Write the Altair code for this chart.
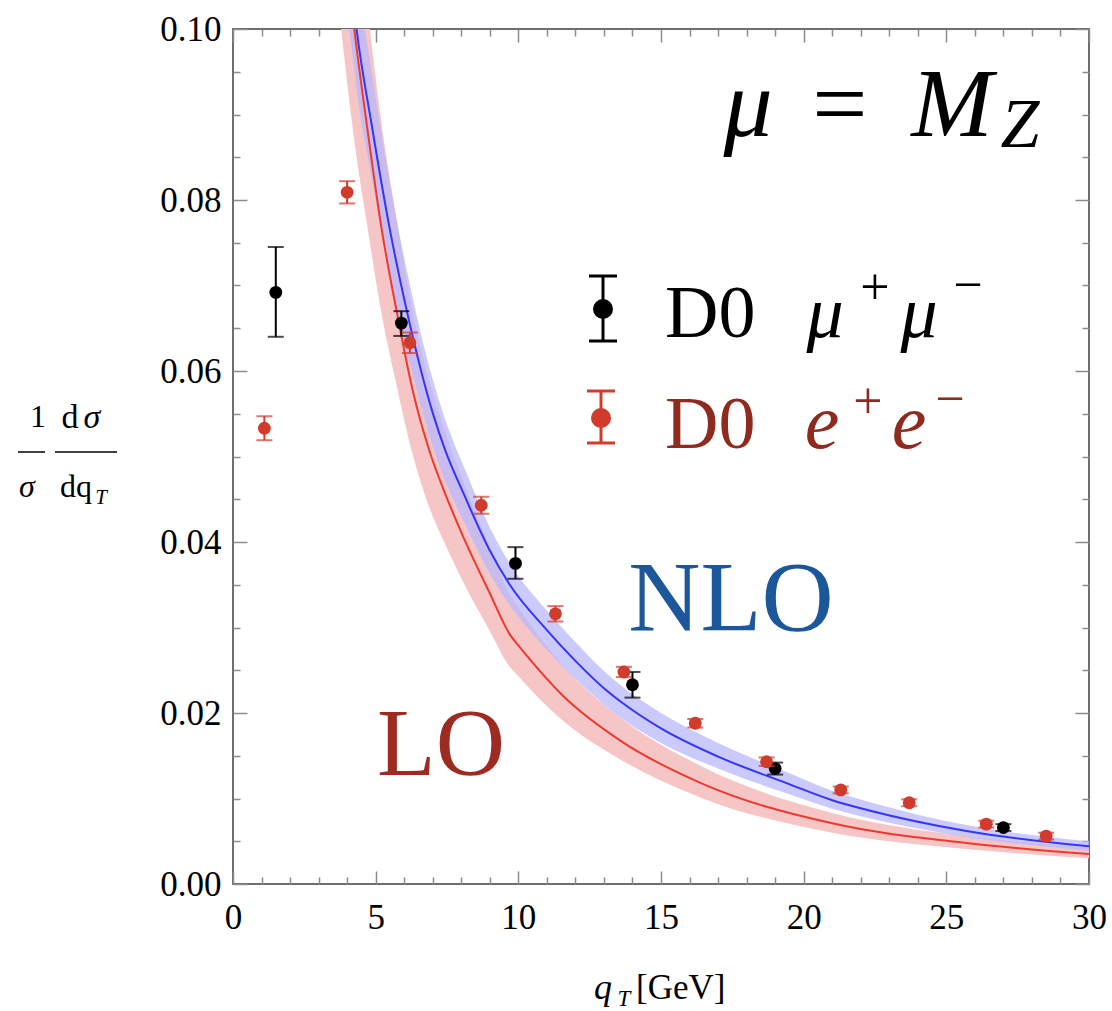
import altair as alt
import pandas as pd

# ---------------- data ----------------
# NLO curve (blue) with its band
nlo_x  = [3.9, 4.33, 4.86, 5.5, 6.1, 7.0, 7.43, 8.13, 9.0, 9.7, 11.0, 12.0, 13.0, 13.56, 15.0, 17.0, 19.4, 21.0, 22.3, 25.7, 30.0]
nlo_y  = [0.114, 0.1000, 0.0888, 0.0765, 0.0669, 0.0551, 0.0508, 0.0453, 0.0390, 0.0350, 0.0297, 0.0261, 0.0229, 0.0214, 0.0182, 0.0149, 0.0118, 0.0098, 0.0086, 0.0062, 0.0044]
nlo_lo = [0.106, 0.0930, 0.0826, 0.0711, 0.0622, 0.0512, 0.0472, 0.0421, 0.0363, 0.0326, 0.0274, 0.0240, 0.0210, 0.0195, 0.0165, 0.0135, 0.0106, 0.0088, 0.0077, 0.0055, 0.0039]
nlo_hi = [0.122, 0.1070, 0.0950, 0.0819, 0.0716, 0.0590, 0.0544, 0.0485, 0.0417, 0.0375, 0.0320, 0.0283, 0.0249, 0.0233, 0.0200, 0.0165, 0.0131, 0.0109, 0.0096, 0.0069, 0.0050]

# LO curve (red) with its band
lo_x  = [3.7, 4.25, 4.69, 5.2, 5.74, 6.3, 6.9, 7.43, 8.07, 9.0, 9.7, 10.0, 10.5, 11.6, 13.56, 16.4, 21.0, 25.7, 30.0]
lo_y  = [0.118, 0.1000, 0.0888, 0.0768, 0.0669, 0.0577, 0.0505, 0.0457, 0.0406, 0.0340, 0.0292, 0.0279, 0.0259, 0.0219, 0.0168, 0.0118, 0.0071, 0.0048, 0.0035]
lo_lo = [0.1027, 0.0870, 0.0773, 0.0668, 0.0582, 0.0502, 0.0439, 0.0398, 0.0353, 0.0296, 0.0254, 0.0243, 0.0225, 0.0190, 0.0146, 0.0101, 0.0060, 0.0041, 0.0030]
lo_hi = [0.137, 0.1160, 0.1030, 0.0891, 0.0776, 0.0669, 0.0586, 0.0530, 0.0471, 0.0394, 0.0339, 0.0324, 0.0300, 0.0254, 0.0195, 0.0138, 0.0083, 0.0056, 0.0043]

# D0 mu+ mu- data (black)
mu_x  = [1.5, 5.9, 9.9, 14.0, 19.0, 27.0]
mu_y  = [0.0692, 0.0656, 0.0375, 0.0233, 0.0135, 0.0066]
mu_lo = [0.0640, 0.0641, 0.0357, 0.0218, 0.0128, 0.0062]
mu_hi = [0.0745, 0.0670, 0.0394, 0.0248, 0.0142, 0.0070]

# D0 e+ e- data (red)
ee_x   = [1.1, 4.0, 6.2, 8.7, 11.3, 13.7, 16.2, 18.7, 21.3, 23.7, 26.4, 28.5]
ee_y   = [0.0533, 0.0809, 0.0633, 0.0443, 0.0316, 0.0248, 0.0188, 0.0143, 0.0110, 0.0095, 0.0070, 0.0056]
ee_err = [0.0014, 0.0013, 0.0012, 0.0010, 0.0009, 0.0006, 0.0005, 0.0005, 0.0004, 0.0004, 0.0004, 0.0004]

# ticks
x_major = [0, 5, 10, 15, 20, 25, 30]
x_minor = [1, 2, 3, 4, 6, 7, 8, 9, 11, 12, 13, 14, 16, 17, 18, 19, 21, 22, 23, 24, 26, 27, 28, 29]
y_major = [0.0, 0.02, 0.04, 0.06, 0.08, 0.10]
y_minor = [0.005, 0.01, 0.015, 0.025, 0.03, 0.035, 0.045, 0.05, 0.055,
           0.065, 0.07, 0.075, 0.085, 0.09, 0.095]

# ---------------- layout / style ----------------
W, H = 856, 855
PL, PT = 233, 29
FONT = "Liberation Serif"
TICK = "#8c8c8c"
PINK = "#f6c6c6"
LAV = "#b8b8fb"
BLUE = "#3434ff"
RED = "#ee3a2e"
PT_RED = "#d13b2c"
DARKRED = "#8e2a1e"

nlo_df = pd.DataFrame(dict(x=nlo_x, y=nlo_y, lo=nlo_lo, hi=nlo_hi))
lo_df = pd.DataFrame(dict(x=lo_x, y=lo_y, lo=lo_lo, hi=lo_hi))
mu_df = pd.DataFrame(dict(x=mu_x, y=mu_y, lo=mu_lo, hi=mu_hi))
ee_df = pd.DataFrame(dict(x=ee_x, y=ee_y))
ee_df["lo"] = ee_df["y"] - pd.Series(ee_err)
ee_df["hi"] = ee_df["y"] + pd.Series(ee_err)
one = pd.DataFrame({"k": [0]})

xs = alt.Scale(domain=[0, 30], nice=False, zero=False)
ys = alt.Scale(domain=[0, 0.1], nice=False, zero=False)


def ax(orient, values, size, labels=False, fmt=None, pad=0):
    kw = dict(orient=orient, values=values, tickSize=size, offset=-size,
              domain=False, grid=False, labels=labels, title=None,
              ticks=True, tickColor=TICK, tickWidth=1.5)
    if labels:
        kw.update(labelFont=FONT, labelFontSize=35, labelColor="black",
                  labelPadding=pad, labelFlush=False, labelOverlap=False)
        if fmt:
            kw["format"] = fmt
    return alt.Axis(**kw)


NOX = alt.X("x:Q", scale=xs, axis=None)
INTERP = "monotone"

# bands and curves (these layers carry the frame ticks)
pink = alt.Chart(lo_df).mark_area(color=PINK, clip=True, interpolate=INTERP).encode(
    x=alt.X("x:Q", scale=xs, axis=ax("bottom", x_major, 13, True, "d", 16)),
    y=alt.Y("lo:Q", scale=ys, axis=ax("left", y_major, 14, True, ".2f", 12)),
    y2="hi:Q")
lav = alt.Chart(nlo_df).mark_area(color=LAV, opacity=0.75, clip=True, interpolate=INTERP).encode(
    x=alt.X("x:Q", scale=xs, axis=ax("bottom", x_minor, 7)),
    y=alt.Y("lo:Q", scale=ys, axis=ax("left", y_minor, 7)),
    y2="hi:Q")
red_line = alt.Chart(lo_df).mark_line(color=RED, strokeWidth=2, clip=True, interpolate=INTERP).encode(
    x=alt.X("x:Q", scale=xs, axis=ax("top", x_major, 13)),
    y=alt.Y("y:Q", scale=ys, axis=ax("right", y_major, 14)))
blue_line = alt.Chart(nlo_df).mark_line(color=BLUE, strokeWidth=2, clip=True, interpolate=INTERP).encode(
    x=alt.X("x:Q", scale=xs, axis=ax("top", x_minor, 7)),
    y=alt.Y("y:Q", scale=ys, axis=ax("right", y_minor, 7)))


def points(df, color):
    base = alt.Chart(df)
    bar = base.mark_rule(color=color, strokeWidth=2).encode(
        x=NOX, y=alt.Y("lo:Q", scale=ys, axis=None), y2="hi:Q")
    cap_lo = base.mark_tick(color=color, orient="horizontal", size=16, thickness=2).encode(
        x=NOX, y=alt.Y("lo:Q", scale=ys, axis=None))
    cap_hi = base.mark_tick(color=color, orient="horizontal", size=16, thickness=2).encode(
        x=NOX, y=alt.Y("hi:Q", scale=ys, axis=None))
    dot = base.mark_circle(color=color, size=165, opacity=1).encode(
        x=NOX, y=alt.Y("y:Q", scale=ys, axis=None))
    return [bar, cap_lo, cap_hi, dot]


def txt(s, px, py, size, color="black", style="normal", align="center", font=FONT):
    return alt.Chart(one).mark_text(
        text=s, font=font, fontSize=size, fontStyle=style, color=color,
        align=align, baseline="alphabetic").encode(
        x=alt.value(px - PL), y=alt.value(py - PT))


def hrule(x1, x2, y, color, w):
    return alt.Chart(one).mark_rule(color=color, strokeWidth=w).encode(
        x=alt.value(x1 - PL), x2=alt.value(x2 - PL), y=alt.value(y - PT))


def vrule(x, y1, y2, color, w):
    return alt.Chart(one).mark_rule(color=color, strokeWidth=w).encode(
        x=alt.value(x - PL), y=alt.value(y1 - PT), y2=alt.value(y2 - PT))


def dot(px, py, color, size):
    return alt.Chart(one).mark_circle(color=color, size=size, opacity=1).encode(
        x=alt.value(px - PL), y=alt.value(py - PT))


annotations = [
    # curve labels
    txt("NLO", 731, 630, 100, "#1c5799"),
    txt("LO", 441, 775, 96, "#9e2b22"),
    # mu = M_Z
    txt("μ", 748, 136, 98, style="italic"),
    txt("=", 840, 136, 98),
    txt("M", 952, 136, 98, style="italic"),
    txt("Z", 1020, 147, 70, style="italic"),
    # legend: black
    vrule(603, 276, 341, "black", 3),
    hrule(589, 617, 276, "black", 3),
    hrule(589, 617, 341, "black", 3),
    dot(603, 309, "black", 400),
    txt("D0", 665, 337, 74, align="left"),
    txt("μ", 825, 337, 74, style="italic"),
    txt("+", 875, 304, 52),
    txt("μ", 919, 337, 74, style="italic"),
    txt("−", 968, 302, 52),
    # legend: red
    vrule(601, 391, 443, PT_RED, 3),
    hrule(587, 615, 391, PT_RED, 3),
    hrule(587, 615, 443, PT_RED, 3),
    dot(601, 418, PT_RED, 400),
    txt("D0", 665, 448, 74, DARKRED, align="left"),
    txt("e", 822, 448, 78, DARKRED, style="italic"),
    txt("+", 868, 418, 52, DARKRED),
    txt("e", 909, 448, 78, DARKRED, style="italic"),
    txt("−", 950, 416, 52, DARKRED),
    # y-axis title: (1/sigma) d sigma / d q_T
    txt("1", 38, 427, 32),
    txt("d", 70, 428, 34),
    txt("σ", 92, 428, 34, style="italic"),
    hrule(18, 45, 452, "black", 1.5),
    hrule(55, 117, 452, "black", 1.5),
    txt("σ", 27, 497, 32, style="italic"),
    txt("dq", 76, 497, 32),
    txt("T", 101, 504, 21, style="italic"),
    # x-axis title: q_T [GeV]
    txt("q", 603, 999, 36, style="italic"),
    txt("T", 624, 1006, 23, style="italic"),
    txt("[GeV]", 636, 999, 35, align="left"),
]

layers = [pink, lav, red_line, blue_line] + points(mu_df, "black") + points(ee_df, PT_RED) + annotations

chart = alt.layer(*layers).resolve_axis(x="independent", y="independent").properties(
    width=W, height=H,
    autosize=alt.AutoSizeParams(type="none"),
    padding={"left": PL, "top": PT, "right": 1112 - PL - W, "bottom": 1011 - PT - H},
    background="white",
).configure_view(stroke="#6e6e6e", strokeWidth=2)

chart.save("out.html", embed_options={"renderer": "svg", "actions": False})
